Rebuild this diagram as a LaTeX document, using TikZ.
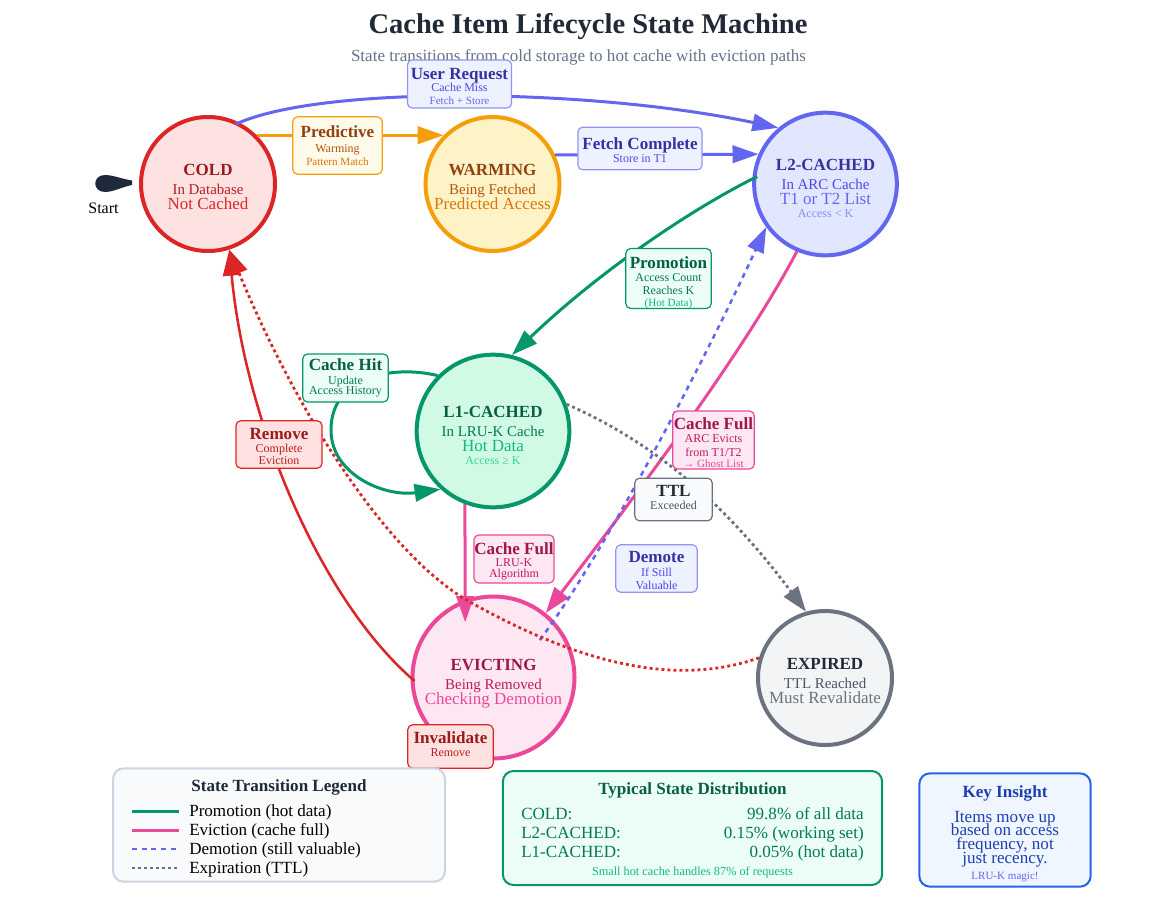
\documentclass[tikz,border=0pt]{standalone}
\usepackage{fontspec}
\setmainfont{Liberation Serif}
\usetikzlibrary{arrows.meta}
\definecolor{redA}{HTML}{991B1B}\definecolor{redB}{HTML}{B91C1C}\definecolor{redC}{HTML}{DC2626}
\definecolor{amberA}{HTML}{92400E}\definecolor{amberB}{HTML}{B45309}\definecolor{amberC}{HTML}{D97706}
\definecolor{indigoA}{HTML}{3730A3}\definecolor{indigoB}{HTML}{4F46E5}\definecolor{indigoC}{HTML}{6366F1}\definecolor{indigoD}{HTML}{818CF8}
\definecolor{greenA}{HTML}{065F46}\definecolor{greenB}{HTML}{047857}\definecolor{greenC}{HTML}{10B981}\definecolor{greenD}{HTML}{34D399}
\definecolor{pinkA}{HTML}{9D174D}\definecolor{pinkB}{HTML}{BE185D}\definecolor{pinkC}{HTML}{DB2777}\definecolor{pinkD}{HTML}{EC4899}
\definecolor{grayA}{HTML}{1F2937}\definecolor{grayB}{HTML}{4B5563}\definecolor{grayC}{HTML}{6B7280}
\definecolor{amberline}{HTML}{F59E0B}\definecolor{greenline}{HTML}{059669}
\definecolor{blueA}{HTML}{1E40AF}\definecolor{blueline}{HTML}{2563EB}
\definecolor{startfill}{HTML}{1E293B}\definecolor{subgray}{HTML}{64748B}
\definecolor{coldfill}{HTML}{FEE2E2}\definecolor{warmfill}{HTML}{FEF3C7}\definecolor{ltwofill}{HTML}{E0E7FF}
\definecolor{lonefill}{HTML}{D1FAE5}\definecolor{evictfill}{HTML}{FCE7F3}\definecolor{expfill}{HTML}{F3F4F6}
\definecolor{indigobox}{HTML}{EEF2FF}\definecolor{amberbox}{HTML}{FFFBEB}\definecolor{greenbox}{HTML}{ECFDF5}
\definecolor{graybox}{HTML}{F9FAFB}\definecolor{legendfill}{HTML}{F8FAFC}\definecolor{legendline}{HTML}{CBD5E1}\definecolor{bluebox}{HTML}{EFF6FF}
% circle texts
\newcommand{\sA}[3][8.6]{\rule{0pt}{#1pt}\textcolor{#2A}{\fontsize{12.75}{11}\selectfont\bfseries #3}}
\newcommand{\sB}[2]{\textcolor{#1B}{\fontsize{11.2}{11}\selectfont #2}}
\newcommand{\sC}[2]{\textcolor{#1}{\fontsize{12.75}{11}\selectfont #2}}
\newcommand{\sD}[2]{\textcolor{#1}{\fontsize{9}{11}\selectfont #2}}
% label texts
\newcommand{\lA}[3][8.6]{\rule{0pt}{#1pt}\textcolor{#2A}{\fontsize{12.8}{10}\selectfont\bfseries #3}}
\newcommand{\lB}[2]{\textcolor{#1B}{\fontsize{9}{10}\selectfont #2}}
\newcommand{\lC}[2]{\textcolor{#1}{\fontsize{8.3}{10}\selectfont #2}}
\tikzset{
  statenode/.style={circle, line width=3pt, align=center, inner sep=0pt,
    font=\fontsize{11.2}{11}\selectfont, execute at begin node={\lineskiplimit=-20pt}},
  edgebox/.style={rectangle, rounded corners=3.5pt, line width=0.9pt, align=center, inner sep=0pt,
    font=\fontsize{9}{10}\selectfont, execute at begin node={\lineskiplimit=-20pt}},
  infobox/.style={rectangle, rounded corners=8pt, line width=1.5pt, inner sep=0pt},
  rowtext/.style={inner sep=0pt, text height=11.6pt, text depth=2.8pt, font=\fontsize{12.8}{14}\selectfont},
  boxhead/.style={font=\fontsize{12.8}{14}\selectfont\bfseries},
  trans/.style={line width=2.25pt, -{Triangle[length=19.5pt,width=13pt]}},
  demote/.style={line width=1.9pt, dash pattern=on 3.75pt off 3.5pt},
  expire/.style={line width=2.1pt, dash pattern=on 2.2pt off 2.3pt},
}
\begin{document}
\begin{tikzpicture}[x=0.75pt, y=-0.75pt]
  \useasboundingbox (0,0) rectangle (1160,897);
  \node[font=\fontsize{21.4}{24}\selectfont\bfseries, text=grayA] (title) at (588,27) {Cache Item Lifecycle State Machine};
  \node[font=\fontsize{12.8}{14}\selectfont, text=subgray] (subtitle) at (578.5,57) {State transitions from cold storage to hot cache with eviction paths};

  % start marker
  \fill[startfill] (132,180.5) .. controls (122,179) and (113,175) .. (105,175) .. controls (92,175) and (92,192) .. (105,192) .. controls (113,192) and (122,187) .. (132,185) -- cycle;
  \node[font=\fontsize{12}{13}\selectfont] (startlab) at (103.5,208) {Start};

  % states
  \node[statenode, draw=redC, fill=coldfill, minimum size=100.5pt] (cold) at (208,184) {\sA[13]{red}{COLD}\\[3pt]\sB{red}{In Database}\\\sC{redC}{Not Cached}};
  \node[statenode, draw=amberline, fill=warmfill, minimum size=100.5pt] (warming) at (492.5,184) {\sA[13]{amber}{WARMING}\\[3pt]\sB{amber}{Being Fetched}\\\sC{amberC}{Predicted Access}};
  \node[statenode, draw=indigoC, fill=ltwofill, minimum size=107pt] (l2) at (825.5,184) {\sA[15.5]{indigo}{L2-CACHED}\\[3pt]\sB{indigo}{In ARC Cache}\\\sC{indigoC}{T1 or T2 List}\\[-1pt]\sD{indigoD}{Access < K}};
  \node[statenode, draw=greenline, fill=lonefill, minimum size=114.5pt] (l1) at (493,431) {\sA[15.5]{green}{L1-CACHED}\\[3pt]\sB{green}{In LRU-K Cache}\\\sC{greenC}{Hot Data}\\[-1pt]\sD{greenD}{Access ≥ K}};
  \node[statenode, draw=pinkD, fill=evictfill, minimum size=121.5pt] (evicting) at (493.5,677.5) {\sA[17.5]{pink}{EVICTING}\\[3pt]\sB{pink}{Being Removed}\\\sC{pinkD}{Checking Demotion}};
  \node[statenode, draw=grayC, fill=expfill, minimum size=100.5pt] (expired) at (825,678) {\sA[13]{gray}{EXPIRED}\\[3pt]\sB{gray}{TTL Reached}\\\sC{grayC}{Must Revalidate}};

  % transitions
  \draw[trans, indigoC, shorten <=-3pt] (cold.63) .. controls (320,85) and (590,88) .. (l2.130);
  \draw[trans, amberline] (cold.45) -- (warming.135);
  \draw[trans, indigoC] (warming.25) -- (l2.156);
  \draw[trans, greenline, shorten <=-4pt] (l2.176) .. controls (680,215) and (590,280) .. (l1.76);
  \draw[trans, greenline] (l1.135) .. controls (395,365) and (331,375) .. (331,430) .. controls (331,475) and (385,497) .. (l1.228);
  \draw[trans, pinkD, shorten >=-17pt] (l1.249) -- (evicting.110);
  \draw[trans, pinkD] (l2.247) .. controls (745,350) and (640,490) .. (evicting.51);
  \draw[demote, indigoC, shorten <=-18pt, -{Triangle[length=19pt,width=13pt]}] (evicting.43) .. controls (600,560) and (700,370) .. (l2.216);
  \draw[expire, grayC, -{Triangle[length=19pt,width=13pt]}] (l1.20) .. controls (660,445) and (730,510) .. (expired.106);
  \draw[trans, line width=1.9pt, redC, shorten <=-4pt] (evicting.180) .. controls (320,600) and (245,420) .. (cold.288);
  \draw[expire, redC, -{Triangle[length=19pt,width=13pt]}] (expired.163) .. controls (690,682) and (600,675) .. (470,602) .. controls (390,557) and (300,420) .. (cold.288);

  % transition labels
  \node[edgebox, draw=indigoC!70!white, fill=indigobox, minimum width=78pt, minimum height=36pt] (userreq) at (459.5,84) {\lA[11.6]{indigo}{User Request}\\[-1pt]\lB{indigo}{Cache Miss}\\\lC{indigoC}{Fetch + Store}};
  \node[edgebox, draw=amberline, fill=amberbox, minimum width=67pt, minimum height=43pt] (predictive) at (337.5,145.5) {\lA{amber}{Predictive}\\[1pt]\lB{amber}{Warming}\\\lC{amberC}{Pattern Match}};
  \node[edgebox, draw=indigoC!70!white, fill=indigobox, minimum width=93pt, minimum height=32pt] (fetched) at (640,148.5) {\lA[11.6]{indigo}{Fetch Complete}\\[-.5pt]\lB{indigo}{Store in T1}};
  \node[edgebox, draw=greenline, fill=greenbox, minimum width=64pt, minimum height=43pt] (promotion) at (668.5,278.5) {\lA[14.6]{green}{Promotion}\\\lB{green}{Access Count}\\\lB{green}{Reaches K}\\[-1.5pt]\lC{greenC}{(Hot Data)}};
  \node[edgebox, draw=greenline, fill=greenbox, minimum width=64pt, minimum height=36pt] (cachehit) at (345.5,378) {\lA{green}{Cache Hit}\\[1pt]\lB{green}{Update}\\[-2.5pt]\lB{green}{Access History}};
  \node[edgebox, draw=redC, fill=coldfill, minimum width=64.5pt, minimum height=35.5pt] (remove) at (279,444.5) {\lA[11.6]{red}{Remove}\\\lB{red}{Complete}\\[-1pt]\lB{red}{Eviction}};
  \node[edgebox, draw=pinkD, fill=evictfill, minimum width=60pt, minimum height=36pt] (evictlone) at (514,559) {\lA[12.4]{pink}{Cache Full}\\[-1.5pt]\lB{pink}{LRU-K}\\[-1.8pt]\lB{pink}{Algorithm}};
  \node[edgebox, draw=pinkD, fill=evictfill, minimum width=61pt, minimum height=43.5pt] (evictltwo) at (713.5,440) {\lA[13]{pink}{Cache Full}\\\lB{pink}{ARC Evicts}\\\lB{pink}{from T1/T2}\\[-1.5pt]\lC{pinkD}{→ Ghost List}};
  \node[edgebox, draw=grayC, fill=graybox, minimum width=58pt, minimum height=32pt] (ttl) at (673.5,499.5) {\lA{gray}{TTL}\\[-.6pt]\lB{gray}{Exceeded}\rule[-3.5pt]{0pt}{0pt}};
  \node[edgebox, draw=indigoC!70!white, fill=indigobox, minimum width=61pt, minimum height=35.5pt] (demotelab) at (656.5,568.5) {\lA[11.6]{indigo}{Demote}\\\lB{indigo}{If Still}\\\lB{indigo}{Valuable}};
  \node[edgebox, draw=redC, fill=coldfill, minimum width=64pt, minimum height=32.5pt] (invalidate) at (450.5,746.5) {\lA{red}{Invalidate}\\[-.5pt]\lB{red}{Remove}\rule[-4pt]{0pt}{0pt}};

  % legend
  \node[infobox, draw=legendline, fill=legendfill, minimum width=249pt, minimum height=85pt] (legendbox) at (279,825) {};
  \node[boxhead, text=grayA] (legendtitle) at (279,787) {State Transition Legend};
  \node[rowtext, anchor=west] (legpromo) at (189,811) {Promotion (hot data)};
  \node[rowtext, anchor=west] (legevict) at (189,830) {Eviction (cache full)};
  \node[rowtext, anchor=west] (legdemote) at (189,849) {Demotion (still valuable)};
  \node[rowtext, anchor=west] (legexpire) at (189,868) {Expiration (TTL)};
  \draw[line width=2.25pt, greenline] ([xshift=-42.75pt]legpromo.west) -- ([xshift=-7.5pt]legpromo.west);
  \draw[line width=2.25pt, pinkD] ([xshift=-42.75pt]legevict.west) -- ([xshift=-7.5pt]legevict.west);
  \draw[demote, indigoC] ([xshift=-42.75pt]legdemote.west) -- ([xshift=-7.5pt]legdemote.west);
  \draw[expire, grayC] ([xshift=-42.75pt]legexpire.west) -- ([xshift=-7.5pt]legexpire.west);

  % distribution box
  \node[infobox, draw=greenline, fill=greenbox, minimum width=284.5pt, minimum height=85.5pt] (distbox) at (692.5,828) {};
  \node[boxhead, text=greenA] (disttitle) at (692.5,790) {Typical State Distribution};
  \node[rowtext, anchor=west, text=greenB] (colda) at (521,814) {COLD:};
  \node[rowtext, anchor=west, text=greenB] (ltwoa) at (521,833) {L2-CACHED:};
  \node[rowtext, anchor=west, text=greenB] (lonea) at (521,852) {L1-CACHED:};
  \node[rowtext, anchor=east, text=greenB] (coldb) at (864,814) {99.8\% of all data};
  \node[rowtext, anchor=east, text=greenB] (ltwob) at (864,833) {0.15\% (working set)};
  \node[rowtext, anchor=east, text=greenB] (loneb) at (864,852) {0.05\% (hot data)};
  \node[font=\fontsize{9.2}{11}\selectfont, text=greenC] (distnote) at (692.5,872) {Small hot cache handles 87\% of requests};

  % insight box
  \node[infobox, draw=blueline, fill=bluebox, minimum width=128.5pt, minimum height=85pt] (keybox) at (1005,830) {};
  \node[boxhead, text=blueA] (keytitle) at (1005,793.5) {Key Insight};
  \node[align=center, inner sep=0pt, font=\fontsize{12.8}{10.3}\selectfont, text=blueA, execute at begin node={\lineskiplimit=-20pt}] (keytext) at (1005,839) {Items move up\\based on access\\frequency, not\\just recency.};
  \node[font=\fontsize{8.3}{10}\selectfont, text=indigoC] (keynote) at (1005,877.5) {LRU-K magic!};
\end{tikzpicture}
\end{document}
